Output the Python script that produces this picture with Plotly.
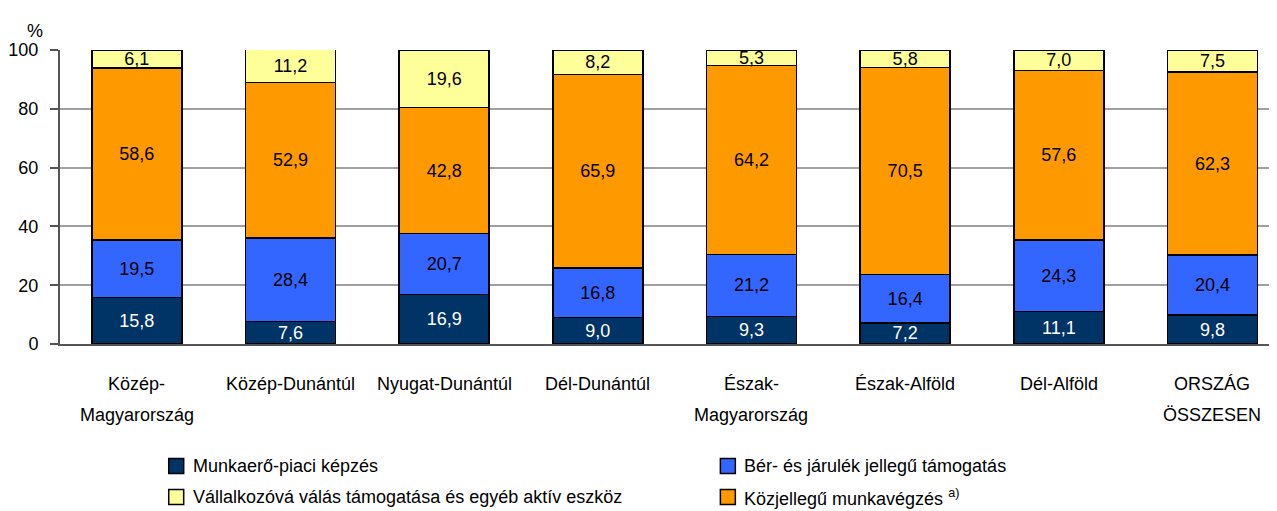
import plotly.graph_objects as go

categories = ["Közép-Magyarország", "Közép-Dunántúl", "Nyugat-Dunántúl", "Dél-Dunántúl",
              "Észak-Magyarország", "Észak-Alföld", "Dél-Alföld", "ORSZÁG ÖSSZESEN"]
label_line1 = ["Közép-", "Közép-Dunántúl", "Nyugat-Dunántúl", "Dél-Dunántúl",
               "Észak-", "Észak-Alföld", "Dél-Alföld", "ORSZÁG"]
label_line2 = ["Magyarország", "", "", "", "Magyarország", "", "", "ÖSSZESEN"]

munkaero = [15.8, 7.6, 16.9, 9.0, 9.3, 7.2, 11.1, 9.8]
ber = [19.5, 28.4, 20.7, 16.8, 21.2, 16.4, 24.3, 20.4]
kozjellegu = [58.6, 52.9, 42.8, 65.9, 64.2, 70.5, 57.6, 62.3]
vallalkozo = [6.1, 11.2, 19.6, 8.2, 5.3, 5.8, 7.0, 7.5]

FONT = "Liberation Sans"
FS = 18
x = list(range(len(categories)))

series = [
    ("Munkaerő-piaci képzés", munkaero, "#003366", "white"),
    ("Bér- és járulék jellegű támogatás", ber, "#3366FF", "black"),
    ("Közjellegű munkavégzés <sup>a)</sup>", kozjellegu, "#FF9900", "black"),
    ("Vállalkozóvá válás támogatása és egyéb aktív eszköz", vallalkozo, "#FFFF99", "black"),
]

# page offset from default body margin
OFF = 8
W, H = 1277 - OFF, 511 - OFF
# plot-area geometry in page pixels
L, R, T, B = 57, 1277, 50, 344
def px(xp):
    return (xp - L) / (R - L)
def py(yp):
    return (B - yp) / (B - T)

fig = go.Figure()
for name, vals, color, tcolor in series:
    fig.add_trace(go.Bar(
        x=x, y=vals, name=name, marker=dict(color=color, line=dict(color="black", width=1.5)),
        width=0.585, texttemplate="%{y:.1f}", textposition="inside", insidetextanchor="middle",
        constraintext="none", textfont=dict(family=FONT, size=FS, color=tcolor),
        showlegend=False, hoverinfo="skip"))

annotations = [dict(text="%", x=px(22), xref="paper", y=py(19), yref="paper",
                    showarrow=False, font=dict(family=FONT, size=FS, color="black"))]
for i in x:
    annotations.append(dict(text=label_line1[i], x=i, xref="x", y=py(384), yref="paper",
                            yanchor="middle", showarrow=False,
                            font=dict(family=FONT, size=FS, color="black")))
    if label_line2[i]:
        annotations.append(dict(text=label_line2[i], x=i, xref="x", y=py(415), yref="paper",
                                yanchor="middle", showarrow=False,
                                font=dict(family=FONT, size=FS, color="black")))

# manual legend in two columns
legend_pos = [(166, 466), (719, 466), (719, 497), (166, 497)]
shapes = []
for (name, vals, color, tcolor), (sx, sy) in zip(series, legend_pos):
    shapes.append(dict(type="rect", xref="paper", yref="paper",
                       x0=px(sx), x1=px(sx + 15), y0=py(sy + 7.5), y1=py(sy - 7.5),
                       fillcolor=color, line=dict(color="black", width=1.5)))
    annotations.append(dict(text=name, x=px(sx + 22), xref="paper", xanchor="left",
                            y=py(sy), yref="paper", yanchor="middle", showarrow=False,
                            font=dict(family=FONT, size=FS, color="black")))

fig.update_layout(
    width=W, height=H, barmode="stack", separators=", ",
    margin=dict(l=L - OFF, r=W - (R - OFF), t=T - OFF, b=H - (B - OFF), pad=0),
    plot_bgcolor="white", paper_bgcolor="white",
    font=dict(family=FONT, size=FS, color="black"),
    xaxis=dict(range=[-0.5, 7.42], showticklabels=False, showgrid=False, showline=True,
               linecolor="#555555", linewidth=2, ticks="", zeroline=False),
    yaxis=dict(range=[0, 100], dtick=20, showgrid=True, gridcolor="#A0A0A0", gridwidth=2,
               showline=True, linecolor="#555555", linewidth=2, ticks="outside", ticklen=8,
               tickcolor="#555555", tickwidth=2, zeroline=False, ticklabelstandoff=8,
               tickfont=dict(family=FONT, size=FS, color="black")),
    annotations=annotations,
    shapes=shapes,
    showlegend=False,
)
fig.write_html("out.html")
